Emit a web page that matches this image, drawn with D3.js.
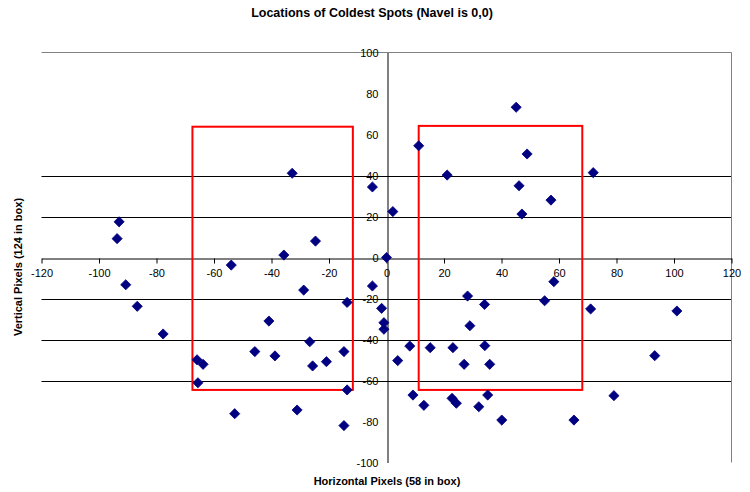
<!DOCTYPE html>
<html><head><meta charset="utf-8">
<script src="https://cdn.jsdelivr.net/npm/d3@7"></script>
<style>body{margin:0;background:#fff}svg{display:block}text{font-family:"Liberation Sans",Arial,sans-serif}</style>
</head><body><svg id="c" width="750" height="492"></svg>
<script>
const title = "Locations of Coldest Spots (Navel is 0,0)";
const xTitle = "Horizontal Pixels (58 in box)";
const yTitle = "Vertical Pixels (124 in box)";
const xTicks = [-120,-100,-80,-60,-40,-20,0,20,40,60,80,100,120];
const yTicks = [-100,-80,-60,-40,-20,0,20,40,60,80,100];
const gridY = [40,20,-20,-40,-60];
const xs = [-93,-93.7,-90.7,-86.7,-77.7,-65.9,-63.8,-65.6,-54,-52.8,-45.8,-40.9,-38.8,-35.7,-32.8,-31.1,-28.8,-26.7,-25.7,-24.7,-20.9,-14.8,-13.7,-13.7,-14.8,-4.9,-4.9,-1.7,-0.9,-0.9,0,2.2,3.9,
  11.2,21.1,45.1,48.9,46.1,57.2,47.1,71.9,58.2,55,71,28.2,34.1,29,8.1,15.2,23.1,34.2,27,35.9,9.2,13,22.8,24.3,32.1,35.2,40.1,65.2,101,93.3,79.1];
const ys = [17.4,9.2,-13.3,-23.8,-37.3,-49.9,-52.1,-61.1,-3.7,-76.2,-45.9,-31,-48,1.2,41.1,-74.4,-15.9,-41.1,-52.9,8,-50.8,-45.9,-21.9,-64.6,-82,34.4,-13.9,-24.8,-31.8,-35,0,22.4,-50.3,
  54.5,40.2,73.3,50.5,35,28,21.2,41.4,-11.8,-21.1,-25.1,-18.8,-22.9,-33.3,-43.2,-44,-44,-43,-52.1,-52.1,-67.1,-72.1,-68.7,-71.1,-72.8,-67.1,-79.3,-79.3,-26.1,-47.9,-67.4];
const boxX0 = [-67.5, 11.2];
const boxX1 = [-11.7, 68.1];
const boxYTop = [63.8, 64.2];
const boxYBot = [-64.6, -64.6];

const svg = d3.select("#c");
const x = d3.scaleLinear().domain([-120,120]).range([41.5,731.5]);
const y = d3.scaleLinear().domain([-100,100]).range([462.5,52.5]);
const fmt = d => String(d);

svg.append("g").selectAll("line").data(gridY).join("line")
  .attr("x1",x(-120)).attr("x2",x(120)).attr("y1",d=>Math.round(y(d))+0.5).attr("y2",d=>Math.round(y(d))+0.5)
  .attr("stroke","#000").attr("stroke-width",1);
svg.append("line").attr("x1",x(-120)).attr("x2",x(120)).attr("y1",52.5).attr("y2",52.5).attr("stroke","#808080");
svg.append("line").attr("x1",x(120)).attr("x2",x(120)).attr("y1",52.5).attr("y2",462.5).attr("stroke","#808080");

const xAxis = d3.axisBottom(x).tickValues(xTicks).tickFormat(fmt).tickSize(5).tickSizeOuter(0).tickPadding(6);
const gx = svg.append("g").attr("transform",`translate(0,${Math.round(y(0))+0.5})`).call(xAxis);
gx.select(".domain").attr("stroke","#000");
gx.selectAll(".tick line").attr("stroke","#000");
gx.selectAll(".tick text").attr("font-size",11).attr("font-family","Liberation Sans, Arial").attr("fill","#000");

const yAxis = d3.axisLeft(y).tickValues(yTicks).tickFormat(fmt).tickSize(0).tickPadding(9);
const gy = svg.append("g").attr("transform",`translate(${Math.round(x(0))+0.5},0)`).call(yAxis);
gy.select(".domain").attr("stroke","#000");
gy.selectAll(".tick text").attr("font-size",11).attr("font-family","Liberation Sans, Arial").attr("fill","#000");

svg.append("g").selectAll("rect").data(boxX0).join("rect")
  .attr("x",(d,i)=>x(d)).attr("y",(d,i)=>y(boxYTop[i]))
  .attr("width",(d,i)=>x(boxX1[i])-x(d)).attr("height",(d,i)=>y(boxYBot[i])-y(boxYTop[i]))
  .attr("fill","none").attr("stroke","#ff0000").attr("stroke-width",2);

const sym = d3.symbol().type(d3.symbolDiamond2).size(66);
svg.append("g").selectAll("path").data(xs).join("path")
  .attr("transform",(d,i)=>`translate(${x(d)},${y(ys[i])})`)
  .attr("d",sym).attr("fill","#000080").attr("stroke","#000080").attr("stroke-width",0.8);

svg.append("text").attr("x",372).attr("y",17).attr("text-anchor","middle")
  .attr("font-size",12.5).attr("font-weight","bold").text(title);
svg.append("text").attr("x",387).attr("y",485).attr("text-anchor","middle")
  .attr("font-size",11).attr("font-weight","bold").text(xTitle);
svg.append("text").attr("transform","translate(22,267) rotate(-90)").attr("text-anchor","middle")
  .attr("font-size",11).attr("font-weight","bold").text(yTitle);
</script></body></html>
